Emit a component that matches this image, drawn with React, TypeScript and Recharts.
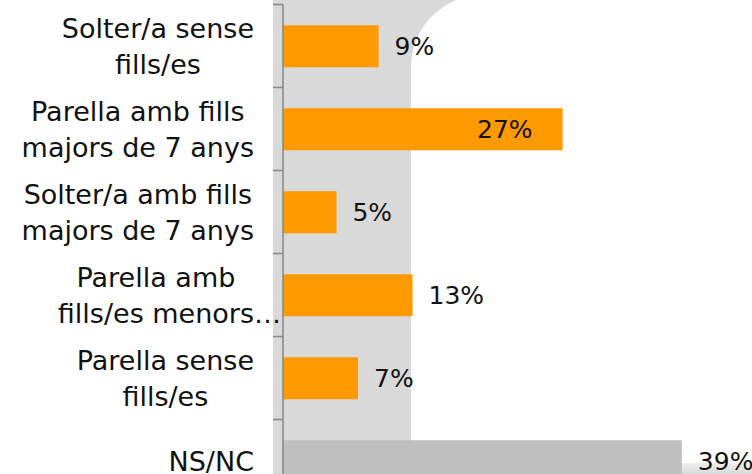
import React from "react";
import { BarChart, Bar, XAxis, YAxis, Cell, LabelList } from "recharts";

// household type categories (\n = line break as in the original labels)
const categories = [
  "Solter/a sense\nfills/es",
  "Parella amb fills\nmajors de 7 anys",
  "Solter/a amb fills\nmajors de 7 anys",
  "Parella amb\nfills/es menors…",
  "Parella sense\nfills/es",
  "NS/NC",
];
const values = [9.3, 27.2, 5.2, 12.6, 7.3, 38.8];
const valueLabels = ["9%", "27%", "5%", "13%", "7%", "39%"];

const data = categories.map((c, i) => ({ name: c, value: values[i], label: valueLabels[i] }));

const FONT = '"DejaVu Sans", sans-serif';
const FONT_SIZE = 27;
const VALUE_SIZE = 25;
const AXIS_X = 283;
const LABEL_RIGHT = 254;
const CHART_H = 510;
const TOP = 4.5;
const BOTTOM = 7.5;
const BAND = (CHART_H - TOP - BOTTOM) / categories.length;

let ctx: CanvasRenderingContext2D | null = null;
function measure(text: string) {
  if (!ctx) {
    ctx = document.createElement("canvas").getContext("2d");
  }
  if (!ctx) return text.length * FONT_SIZE * 0.6;
  ctx.font = `${FONT_SIZE}px ${FONT}`;
  return ctx.measureText(text).width;
}

function CategoryTick(props: any) {
  const { y, payload } = props;
  const lines = String(payload.value).split("\n");
  const widths = lines.map((l) => measure(l.replace(/…$/, "")));
  const block = Math.max(...widths);
  const cx = LABEL_RIGHT - block / 2;
  const top = y - BAND / 2;
  const n = lines.length;
  return (
    <g>
      <line x1={AXIS_X - 10} x2={AXIS_X} y1={top} y2={top} stroke="#868686" strokeWidth={1.5} />
      <text fontFamily={FONT} fontSize={FONT_SIZE} fill="#111">
        {lines.map((l, i) => (
          <tspan key={i} x={cx - widths[i] / 2} y={y + (i - (n - 1) / 2) * 36 + 10}>
            {l}
          </tspan>
        ))}
      </text>
    </g>
  );
}

function ValueLabel(props: any) {
  const { x, y, width, height, index } = props;
  // the long orange bar carries its label inside the bar end
  const inside = categories[index] !== "NS/NC" && width > 200;
  return (
    <text
      x={inside ? x + width - 30 : x + width + 16}
      y={y + height / 2 + 9}
      textAnchor={inside ? "end" : "start"}
      fontFamily={FONT}
      fontSize={VALUE_SIZE}
      fill="#111"
    >
      {valueLabels[index]}
    </text>
  );
}

export default function App() {
  return (
    <div style={{ position: "absolute", left: 0, top: 0, width: 752, height: 474, overflow: "hidden", background: "#fff" }}>
      <svg width={752} height={474} style={{ position: "absolute", left: 0, top: 0 }}>
        <defs>
          <linearGradient id="bottomFade" x1="0" y1="0" x2="0" y2="1">
            <stop offset="0" stopColor="#f0f0f0" />
            <stop offset="1" stopColor="#d9d9d9" />
          </linearGradient>
        </defs>
        <rect x={273} y={0} width={479} height={474} fill="#d9d9d9" />
        <rect x={640} y={462} width={112} height={12} fill="url(#bottomFade)" />
        {/* white panel with rounded top-left corner */}
        <path d="M411 463 L411 67 A72 72 0 0 1 483 -5 L760 -5 L760 463 Z" fill="#fff" />
      </svg>
      <div style={{ position: "absolute", left: 0, top: 0 }}>
        <BarChart
          width={752}
          height={CHART_H}
          data={data}
          layout="vertical"
          margin={{ top: TOP, right: 6.4, bottom: BOTTOM, left: 0 }}
          barCategoryGap="25%"
        >
          <XAxis type="number" domain={[0, 45]} hide />
          <YAxis
            type="category"
            dataKey="name"
            width={AXIS_X}
            tickLine={false}
            axisLine={{ stroke: "#868686", strokeWidth: 1.5 }}
            tick={<CategoryTick />}
            interval={0}
          />
          <Bar dataKey="value" isAnimationActive={false}>
            {data.map((d, i) => (
              <Cell key={i} fill={d.name === "NS/NC" ? "#bfbfbf" : "#ff9900"} />
            ))}
            <LabelList dataKey="value" content={<ValueLabel />} />
          </Bar>
        </BarChart>
      </div>
    </div>
  );
}
